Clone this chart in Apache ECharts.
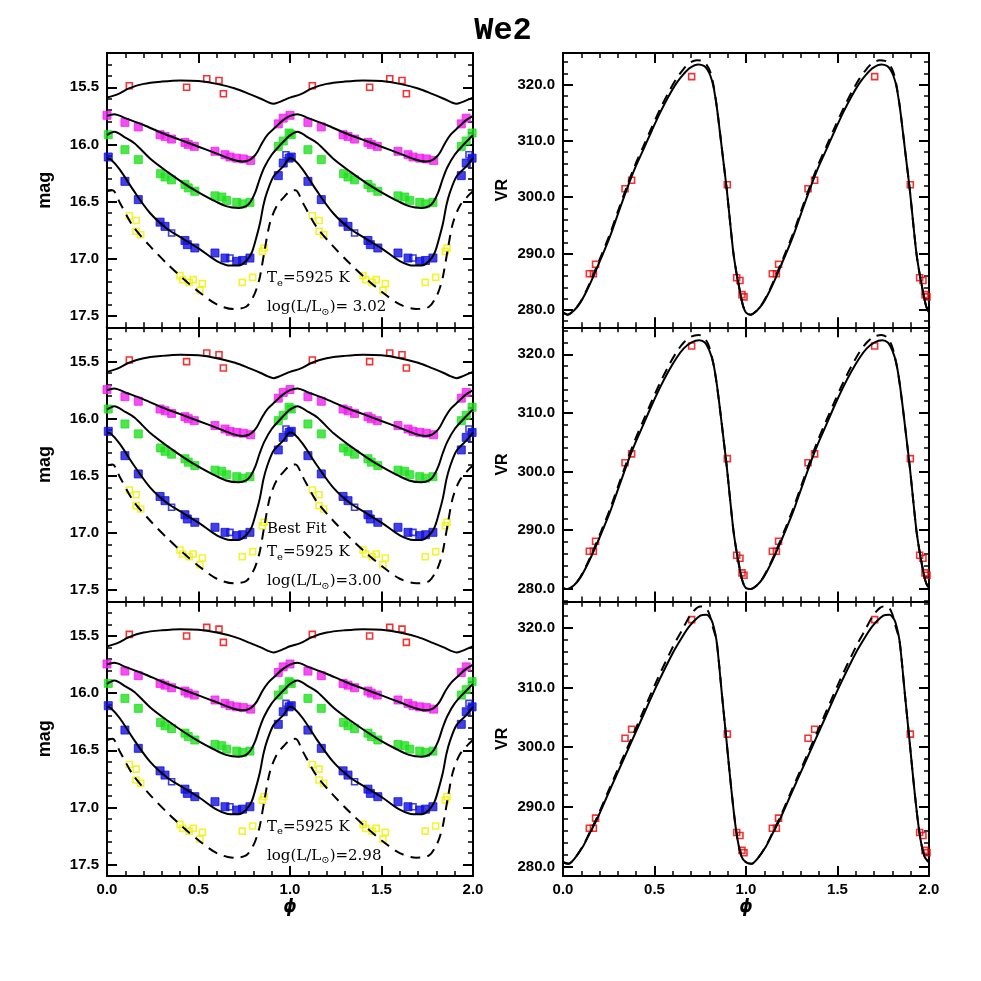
<!DOCTYPE html>
<html>
<head>
<meta charset="utf-8">
<title>We2</title>
<script src="https://cdn.jsdelivr.net/npm/echarts@6/dist/echarts.min.js"></script>
<style>
  html, body { margin: 0; padding: 0; background: #fff; }
  #chart { width: 981px; height: 981px; }
</style>
</head>
<body>
<div id="chart"></div>
<script>
// ---- axis ticks ----
const phaseRange = [0, 2];
const magRange = [15.2, 17.6];
const magMajor = [15.5, 16.0, 16.5, 17.0, 17.5];
const magMinor = [15.3, 15.4, 15.6, 15.7, 15.8, 15.9, 16.1, 16.2, 16.3, 16.4, 16.6, 16.7,
                  16.8, 16.9, 17.1, 17.2, 17.3, 17.4];
const vrRanges = [[276.9, 325.6], [277.8, 324.6], [278.4, 324.4]];
const vrMajor = [280, 290, 300, 310, 320];
const vrMinor = [278, 282, 284, 286, 288, 292, 294, 296, 298, 302, 304, 306, 308,
                 312, 314, 316, 318, 322, 324];

// ---- model light curves (one cycle, phase 0..1) ----
const fitRed = [[0, 15.59], [0.06, 15.56], [0.12, 15.51], [0.2, 15.47], [0.3, 15.45], [0.4, 15.44],
  [0.5, 15.445], [0.6, 15.47], [0.7, 15.51], [0.78, 15.56], [0.84, 15.6], [0.88, 15.63],
  [0.91, 15.645], [0.94, 15.63], [0.97, 15.61], [1.0, 15.59]];
const fitMagenta = [[0, 15.75], [0.04, 15.735], [0.1, 15.77], [0.2, 15.83], [0.3, 15.9], [0.4, 15.96],
  [0.5, 16.02], [0.6, 16.08], [0.68, 16.13], [0.74, 16.15], [0.775, 16.14], [0.8, 16.11],
  [0.82, 16.07], [0.85, 15.98], [0.88, 15.91], [0.92, 15.85], [0.96, 15.79], [1.0, 15.75]];
const fitGreen = [[0, 15.92], [0.04, 15.89], [0.1, 15.94], [0.15, 15.99], [0.24, 16.13], [0.33, 16.24],
  [0.42, 16.34], [0.5, 16.42], [0.57, 16.48], [0.65, 16.54], [0.72, 16.556], [0.76, 16.54],
  [0.785, 16.5], [0.81, 16.42], [0.835, 16.3], [0.86, 16.2], [0.9, 16.09], [0.95, 16.0],
  [0.98, 15.95], [1.0, 15.92]];
const fitBlue = [[0, 16.12], [0.02, 16.13], [0.07, 16.22], [0.144, 16.4], [0.235, 16.6], [0.33, 16.74],
  [0.42, 16.83], [0.51, 16.92], [0.6, 17.02], [0.675, 17.06], [0.72, 17.06], [0.76, 17.02],
  [0.79, 16.95], [0.815, 16.82], [0.836, 16.69], [0.855, 16.53], [0.874, 16.42], [0.91, 16.28],
  [0.965, 16.19], [1.0, 16.12]];
const fitYellow = [[0, 16.41], [0.03, 16.4], [0.07, 16.51], [0.144, 16.72], [0.235, 16.89],
  [0.326, 17.04], [0.42, 17.18], [0.51, 17.3], [0.6, 17.4], [0.69, 17.44], [0.76, 17.42],
  [0.8, 17.33], [0.82, 17.25], [0.836, 17.155], [0.862, 16.92], [0.89, 16.69], [0.927, 16.54],
  [0.973, 16.45], [1.0, 16.41]];

// ---- observed magnitudes (one cycle) ----
const obsRed = [[0.122, 15.486], [0.435, 15.5], [0.545, 15.425], [0.612, 15.44], [0.636, 15.556]];
const obsMagenta = [[0.0, 15.745], [0.098, 15.807], [0.171, 15.847], [0.29, 15.915], [0.317, 15.93],
  [0.353, 15.953], [0.426, 15.982], [0.444, 16.0], [0.477, 16.017], [0.59, 16.06], [0.645, 16.09],
  [0.672, 16.11], [0.709, 16.12], [0.745, 16.127], [0.785, 16.14], [0.936, 15.82], [0.963, 15.77]];
const obsGreen = [[0.007, 15.915], [0.098, 16.046], [0.171, 16.133], [0.293, 16.256], [0.317, 16.285],
  [0.353, 16.31], [0.426, 16.35], [0.444, 16.38], [0.48, 16.41], [0.59, 16.45], [0.627, 16.46],
  [0.654, 16.49], [0.709, 16.507], [0.741, 16.52], [0.781, 16.507], [0.936, 16.017],
  [0.963, 15.97], [0.995, 15.9]];
const obsBlue = [[0.007, 16.11], [0.098, 16.323], [0.171, 16.483], [0.29, 16.68], [0.317, 16.717],
  [0.426, 16.84], [0.439, 16.877], [0.48, 16.906], [0.59, 16.95], [0.645, 16.994],
  [0.709, 17.023], [0.741, 17.015], [0.781, 16.994], [0.936, 16.273], [0.963, 16.163],
  [0.995, 16.12]];
const obsBlueOpen = [[0.353, 16.775], [0.672, 16.994], [0.978, 16.09]];
const obsYellow = [[0.122, 16.624], [0.159, 16.665], [0.159, 16.76], [0.184, 16.79], [0.399, 17.148],
  [0.413, 17.183], [0.449, 17.207], [0.471, 17.183], [0.521, 17.218], [0.508, 17.277],
  [0.739, 17.207], [0.796, 17.163], [0.849, 16.936], [0.858, 16.906]];

// ---- radial velocity curves (one cycle) ----
const vrSolid1 = [[0, 279.5], [0.025, 279.15], [0.06, 279.9], [0.093, 281.2], [0.13, 283.4],
  [0.166, 285.95], [0.21, 289.3], [0.257, 293.05], [0.3, 297.0], [0.348, 301.35], [0.39, 304.9],
  [0.439, 308.45], [0.485, 311.8], [0.53, 314.97], [0.575, 317.8], [0.621, 320.3], [0.66, 321.9],
  [0.694, 322.97], [0.74, 323.55], [0.77, 323.3], [0.79, 322.6], [0.805, 321.6], [0.821, 319.8],
  [0.84, 316.1], [0.858, 311.4], [0.876, 306.5], [0.895, 301.35], [0.913, 295.6], [0.931, 290.1],
  [0.945, 287.1], [0.958, 284.8], [0.972, 282.4], [0.985, 280.6], [1.0, 279.5]];
const vrDashed1 = [[0, 279.5], [0.025, 279.15], [0.06, 279.9], [0.093, 281.3], [0.13, 283.6],
  [0.166, 286.3], [0.21, 289.7], [0.257, 293.5], [0.3, 297.5], [0.348, 301.8], [0.39, 305.4],
  [0.439, 309.0], [0.485, 312.4], [0.53, 315.6], [0.575, 318.5], [0.621, 321.1], [0.66, 322.8],
  [0.69, 323.8], [0.73, 324.3], [0.76, 324.2], [0.785, 323.5], [0.805, 322.2], [0.821, 320.1],
  [0.84, 316.2], [0.858, 311.4], [0.876, 306.5], [0.895, 301.35], [0.913, 295.6], [0.931, 290.1],
  [0.945, 287.1], [0.958, 284.8], [0.972, 282.4], [0.985, 280.6], [1.0, 279.5]];
const vrSolid2 = [[0, 280.1], [0.025, 279.95], [0.06, 280.6], [0.093, 281.8], [0.13, 283.9],
  [0.166, 286.3], [0.21, 289.5], [0.257, 293.1], [0.3, 296.9], [0.348, 301.1], [0.39, 304.5],
  [0.439, 308.0], [0.485, 311.3], [0.53, 314.3], [0.575, 317.0], [0.621, 319.4], [0.66, 321.0],
  [0.7, 322.0], [0.745, 322.4], [0.775, 322.0], [0.8, 320.6], [0.821, 318.5], [0.84, 315.0],
  [0.858, 310.6], [0.877, 305.6], [0.895, 300.8], [0.913, 295.3], [0.931, 290.0], [0.945, 287.0],
  [0.958, 284.7], [0.972, 282.4], [0.985, 280.9], [1.0, 280.1]];
const vrDashed2 = [[0, 280.1], [0.025, 279.95], [0.06, 280.6], [0.093, 281.9], [0.13, 284.1],
  [0.166, 286.6], [0.21, 289.9], [0.257, 293.6], [0.3, 297.4], [0.348, 301.6], [0.39, 305.1],
  [0.439, 308.7], [0.485, 312.0], [0.53, 315.1], [0.575, 317.9], [0.621, 320.4], [0.66, 322.0],
  [0.7, 323.0], [0.74, 323.3], [0.77, 322.9], [0.795, 321.6], [0.815, 319.4], [0.835, 316.0],
  [0.858, 310.6], [0.877, 305.6], [0.895, 300.8], [0.913, 295.3], [0.931, 290.0], [0.945, 287.0],
  [0.958, 284.7], [0.972, 282.4], [0.985, 280.9], [1.0, 280.1]];
const vrSolid3 = [[0, 280.7], [0.03, 280.45], [0.06, 281.2], [0.11, 283.4], [0.15, 285.8],
  [0.184, 287.8], [0.25, 292.4], [0.33, 297.9], [0.42, 304.06], [0.51, 310.2], [0.6, 315.8],
  [0.65, 318.4], [0.69, 320.27], [0.75, 322.06], [0.783, 322.23], [0.81, 321.4], [0.825, 320.0],
  [0.838, 318.04], [0.852, 314.2], [0.866, 309.6], [0.893, 301.26], [0.92, 292.9], [0.948, 285.6],
  [0.975, 281.7], [1.0, 280.7]];
const vrDashed3 = [[0, 280.7], [0.03, 280.45], [0.06, 281.2], [0.11, 283.5], [0.15, 286.0],
  [0.184, 288.1], [0.25, 292.8], [0.33, 298.4], [0.42, 304.7], [0.51, 311.0], [0.6, 316.8],
  [0.65, 319.6], [0.7, 322.3], [0.75, 323.6], [0.78, 323.4], [0.8, 322.3], [0.82, 320.0],
  [0.838, 318.04], [0.852, 314.2], [0.866, 309.6], [0.893, 301.26], [0.92, 292.9], [0.948, 285.6],
  [0.975, 281.7], [1.0, 280.7]];
const vrSolid = [vrSolid1, vrSolid2, vrSolid3];
const vrDashed = [vrDashed1, vrDashed2, vrDashed3];

// ---- observed radial velocities (one cycle) ----
const obsVR = [[0.144, 286.4], [0.166, 286.4], [0.178, 288.1], [0.339, 301.5], [0.375, 303.0],
  [0.703, 321.4], [0.898, 302.2], [0.949, 285.7], [0.967, 285.2], [0.978, 282.7], [0.989, 282.3]];

// ---- annotations ----
const panelHeader = ['', 'Best Fit', ''];
const panelLogL = ['= 3.02', '=3.00', '=2.98'];
const tempText = '5925';

// phase folding: show two cycles
function twoCycles(cyc, curve) {
  const second = cyc.map(p => [p[0] + 1, p[1]]);
  return cyc.concat(curve ? second.slice(1) : second);
}

const colLeft = [107, 563];
const rowTop = [53, 327.3, 601.7];
const W = 366, H = 274.3;
const tickLabel = { color: '#000', fontFamily: 'Liberation Sans', fontWeight: 'bold', fontSize: 15 };

const grids = [], xAxes = [], yAxes = [], series = [], graphics = [];

function xAxis(gi, pos, labels) {
  return {
    gridIndex: gi, type: 'value', position: pos, min: phaseRange[0], max: phaseRange[1], interval: 0.5,
    axisLine: { show: true, onZero: false, lineStyle: { color: '#000', width: 2 } },
    axisTick: { show: true, inside: true, length: 10, lineStyle: { color: '#000', width: 2 } },
    minorTick: { show: true, splitNumber: 5, length: 5, lineStyle: { color: '#000', width: 1.5 } },
    splitLine: { show: false },
    axisLabel: Object.assign({ show: labels, margin: 6, formatter: v => v.toFixed(1) }, tickLabel)
  };
}

function yAxis(gi, pos, range, inverse, ticks, len, labels) {
  return {
    gridIndex: gi, type: 'value', position: pos, min: range[0], max: range[1], inverse: inverse,
    axisLine: { show: true, onZero: false, lineStyle: { color: '#000', width: 2 } },
    axisTick: { show: true, inside: true, length: len, customValues: ticks,
      lineStyle: { color: '#000', width: len > 6 ? 2 : 1.5 } },
    splitLine: { show: false },
    axisLabel: Object.assign({ show: labels, customValues: ticks, margin: 8,
      formatter: v => v.toFixed(1) }, tickLabel)
  };
}

function addPanel(col, row, range, inverse, major, minor) {
  const gi = grids.length;
  grids.push({ left: colLeft[col], top: rowTop[row], width: W, height: H, outerBoundsMode: 'none' });
  const xi = xAxes.length;
  xAxes.push(xAxis(gi, 'bottom', row === 2), xAxis(gi, 'top', false));
  const yi = yAxes.length;
  yAxes.push(yAxis(gi, 'left', range, inverse, major, 10, true),
             yAxis(gi, 'left', range, inverse, minor, 5, false),
             yAxis(gi, 'right', range, inverse, major, 10, false),
             yAxis(gi, 'right', range, inverse, minor, 5, false));
  return { xi, yi };
}

function curve(data, ax, dashed) {
  return {
    type: 'line', xAxisIndex: ax.xi, yAxisIndex: ax.yi, data: twoCycles(data, true),
    symbol: 'none', smooth: 0.3, silent: true, z: 4,
    lineStyle: { color: '#000', width: 2, type: dashed ? [10, 7] : 'solid' }
  };
}

function points(data, ax, color, filled, size) {
  return {
    type: 'scatter', xAxisIndex: ax.xi, yAxisIndex: ax.yi, data: twoCycles(data, false),
    symbol: 'rect', symbolSize: size, silent: true, z: 3,
    itemStyle: filled ? { color: color, borderColor: color, borderWidth: 1 }
                      : { color: 'rgba(0,0,0,0)', borderColor: color, borderWidth: 1.6 }
  };
}

const serifFont = 'DejaVu Serif';
const noteRich = {
  n: { fontFamily: serifFont, fontSize: 15, color: '#000', lineHeight: 20 },
  s: { fontFamily: serifFont, fontSize: 10, color: '#000', lineHeight: 12, verticalAlign: 'bottom' }
};

function note(x, y, text) {
  graphics.push({ type: 'text', x: x, y: y, silent: true,
    style: { text: text, rich: noteRich, textVerticalAlign: 'middle', fill: '#000' } });
}

for (let r = 0; r < 3; r++) {
  const L = addPanel(0, r, magRange, true, magMajor, magMinor);
  series.push(
    points(obsRed, L, '#f00000', false, 6),
    points(obsMagenta, L, '#f020f0', true, 8),
    points(obsGreen, L, '#20e020', true, 8),
    points(obsBlue, L, '#1010e0', true, 8),
    points(obsBlueOpen, L, '#1010e0', false, 6),
    points(obsYellow, L, '#f0f000', false, 6),
    curve(fitRed, L, false),
    curve(fitMagenta, L, false),
    curve(fitGreen, L, false),
    curve(fitBlue, L, false),
    curve(fitYellow, L, true)
  );
  const R = addPanel(1, r, vrRanges[r], false, vrMajor, vrMinor);
  series.push(
    points(obsVR, R, '#f00000', false, 6),
    curve(vrSolid[r], R, false),
    curve(vrDashed[r], R, true)
  );

  const top = rowTop[r];
  if (panelHeader[r]) note(267, top + 202, '{n|' + panelHeader[r] + '}');
  note(267, top + 225, '{n|T}{s|e}{n|=' + tempText + ' K}');
  note(267, top + 254, '{n|log(L/L}{s|⊙}{n|)' + panelLogL[r] + '}');

  graphics.push({ type: 'text', x: 45, y: top + H / 2, rotation: Math.PI / 2, silent: true,
    style: { text: 'mag', fontFamily: 'Liberation Sans', fontWeight: 'bold', fontSize: 18,
      fill: '#000', textAlign: 'center', textVerticalAlign: 'middle' } });
  graphics.push({ type: 'text', x: 503, y: top + H / 2, rotation: Math.PI / 2, silent: true,
    style: { text: 'VR', fontFamily: 'Liberation Sans', fontWeight: 'bold', fontSize: 16,
      fill: '#000', textAlign: 'center', textVerticalAlign: 'middle' } });
}

[290, 746].forEach(cx => graphics.push({ type: 'text', x: cx, y: 908, silent: true,
  style: { text: 'ϕ', fontFamily: 'DejaVu Sans', fontWeight: 'bold', fontStyle: 'italic', fontSize: 17,
    fill: '#000', textAlign: 'center', textVerticalAlign: 'middle' } }));

graphics.push({ type: 'text', x: 503, y: 31, silent: true,
  style: { text: 'We2', fontFamily: 'Liberation Mono', fontWeight: 'bold', fontSize: 32, fill: '#000',
    textAlign: 'center', textVerticalAlign: 'middle' } });

const chart = echarts.init(document.getElementById('chart'), null, { renderer: 'canvas' });
chart.setOption({
  backgroundColor: '#fff',
  animation: false,
  grid: grids,
  xAxis: xAxes,
  yAxis: yAxes,
  series: series,
  graphic: graphics
});
</script>
</body>
</html>
